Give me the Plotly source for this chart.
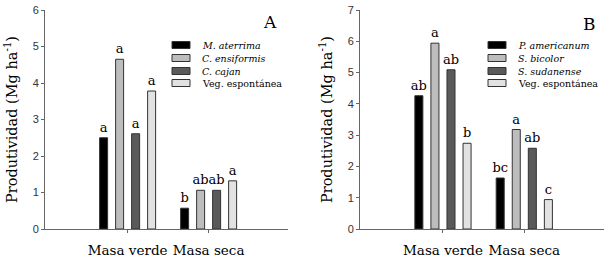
import plotly.graph_objects as go

W, H = 604, 263
T, B = 10, 34

categories = ["Masa verde", "Masa seca"]

# Panel A
series_a = ["<i>M. aterrima</i>", "<i>C. ensiformis</i>", "<i>C. cajan</i>", "Veg. espontánea"]
values_a = [
    [2.50, 0.57],
    [4.65, 1.06],
    [2.61, 1.06],
    [3.78, 1.32],
]
letters_a = [
    ["a", "b"],
    ["a", "ab"],
    ["a", "ab"],
    ["a", "a"],
]

# Panel B
series_b = ["<i>P. americanum</i>", "<i>S. bicolor</i>", "<i>S. sudanense</i>", "Veg. espontánea"]
values_b = [
    [4.26, 1.63],
    [5.94, 3.18],
    [5.09, 2.58],
    [2.74, 0.94],
]
letters_b = [
    ["ab", "bc"],
    ["a", "a"],
    ["ab", "ab"],
    ["b", "c"],
]

colors = ["#000000", "#bdbdbd", "#5a5a5a", "#e2e2e2"]
serif = "DejaVu Serif"
edge = "#333333"


def px(x):
    return x / W


def py(y):
    return (H - B - y) / (H - T - B)


fig = go.Figure()

for i in range(4):
    fig.add_trace(go.Bar(
        x=categories, y=values_a[i], name=series_a[i],
        marker=dict(color=colors[i], line=dict(color=edge, width=1)),
        text=letters_a[i], textposition="outside", constraintext="none",
        textfont=dict(family=serif, size=13, color="#000000"),
        outsidetextfont=dict(family=serif, size=13, color="#000000"),
        cliponaxis=False, xaxis="x", yaxis="y", showlegend=False,
    ))
for i in range(4):
    fig.add_trace(go.Bar(
        x=categories, y=values_b[i], name=series_b[i],
        marker=dict(color=colors[i], line=dict(color=edge, width=1)),
        text=letters_b[i], textposition="outside", constraintext="none",
        textfont=dict(family=serif, size=13, color="#000000"),
        outsidetextfont=dict(family=serif, size=13, color="#000000"),
        cliponaxis=False, xaxis="x2", yaxis="y2", showlegend=False,
    ))

xa_dom = [45 / W, 288 / W]
xb_dom = [360 / W, 604 / W]

axis_common = dict(showline=True, linecolor="#666666", linewidth=1, showgrid=False,
                   zeroline=False, ticks="outside", ticklen=3, tickcolor="#666666")

xfont = dict(family=serif, size=13.5, color="#000000")
yfont = dict(family="Liberation Sans", size=11, color="#333333")
ytitle = dict(text="Produtividad (Mg ha<sup>-1</sup>)", standoff=11,
              font=dict(family=serif, size=14.5, color="#000000"))

# Manual legends (swatch + label), positioned in pixels
shapes = []
annotations = []


def add_legend(x0, names, y_rows):
    for name, col, yc in zip(names, colors, y_rows):
        shapes.append(dict(type="rect", xref="paper", yref="paper",
                           x0=px(x0), x1=px(x0 + 18),
                           y0=py(yc + 3.5), y1=py(yc - 3.5),
                           fillcolor=col, line=dict(color=edge, width=1)))
        annotations.append(dict(text=name, x=px(x0 + 28), y=py(yc),
                                xref="paper", yref="paper", xanchor="left", yanchor="middle",
                                showarrow=False,
                                font=dict(family=serif, size=9.5, color="#000000")))


add_legend(172, series_a, [45, 58, 71, 83])
add_legend(488, series_b, [45, 58, 71, 83])

annotations += [
    dict(text="A", x=px(270), y=py(22), xref="paper", yref="paper", showarrow=False,
         xanchor="center", yanchor="middle",
         font=dict(family=serif, size=17, color="#000000")),
    dict(text="B", x=px(589), y=py(24), xref="paper", yref="paper", showarrow=False,
         xanchor="center", yanchor="middle",
         font=dict(family=serif, size=17, color="#000000")),
]

fig.update_layout(
    width=W, height=H,
    margin=dict(l=0, r=0, t=T, b=B),
    paper_bgcolor="white", plot_bgcolor="white",
    barmode="group", bargap=0.21, bargroupgap=0.5,
    xaxis=dict(domain=xa_dom, anchor="y", type="category", range=[-1.02, 1.98],
               tickangle=0, automargin=False, tickfont=xfont, ticklabelstandoff=6,
               **axis_common),
    yaxis=dict(domain=[0, 1], anchor="x", range=[0, 6], dtick=1, automargin=False,
               tickfont=yfont, title=ytitle, **axis_common),
    xaxis2=dict(domain=xb_dom, anchor="y2", type="category", range=[-1.02, 1.98],
                tickangle=0, automargin=False, tickfont=xfont, ticklabelstandoff=6,
                **axis_common),
    yaxis2=dict(domain=[0, 1], anchor="x2", range=[0, 7], dtick=1, automargin=False,
                tickfont=yfont, title=ytitle, **axis_common),
    shapes=shapes,
    annotations=annotations,
)

fig.write_html("out.html", config={"displayModeBar": False},
               post_script="document.body.style.margin='0px';")
